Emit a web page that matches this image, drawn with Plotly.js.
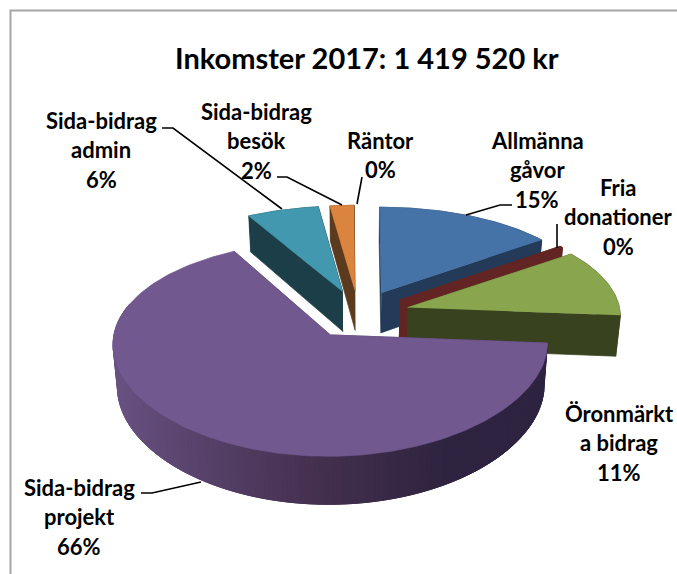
<!DOCTYPE html>
<html><head><meta charset="utf-8">
<script src="https://cdn.plot.ly/plotly-3.0.1.min.js"></script>
<style>html,body{margin:0;padding:0;background:#fff}#c{width:677px;height:574px}</style>
</head><body><div id="c"></div>
<script>
// ---- data (share of income, %) ----
const categories = ['Allmänna gåvor','Fria donationer','Öronmärkta bidrag','Sida-bidrag projekt','Sida-bidrag admin','Sida-bidrag besök','Räntor'];
const values     = [15.0, 0.3, 11.0, 66.0, 6.0, 2.0, 0.1];
const labelLines = [['Allmänna','gåvor'],['Fria','donationer'],['Öronmärkt','a bidrag'],['Sida-bidrag','projekt'],['Sida-bidrag','admin'],['Sida-bidrag','besök'],['Räntor']];
const topColors  = ['#4572a7','#632523','#89a54e','#71588f','#4198af','#db843d','#ffffff'];
const wallColors = ['#233a58','#632523','#38421f','#4a3a60','#1c3e48','#5c3a1e','#ffffff'];
const titleText  = 'Inkomster 2017: 1 419 520 kr';
// label block centres: x, first-line y
const labelX = [537,618,619,79,101,256,380];
const labelY = [140,187,413,487,120,111,140];
// leader lines
const leaders = [
 [[512,205],[500,205],[466,215]],
 [[557,224],[557,248]],
 [],
 [[141,493],[152,493],[201,482]],
 [[162,128],[173,128],[282,209]],
 [[277,177],[287,177],[342,205]],
 [[362,177],[357,204]]
];
// ---- pie geometry ----
const cx=358.5, cy=314, R=213, RY=101, KX=0.08, K=0.122, H=41, TAPER=0.018, EXPLODE=0.24;
const total = values.reduce((a,b)=>a+b,0);
function proj(X,W,Z){return [cx+R*X/(1-KX*W)*(1-TAPER*Z), cy+(RY*W+H*Z)/(1-K*W)];}
const traces=[];
function poly(pts,color){
  traces.push({type:'scatter',mode:'lines',x:pts.map(p=>p[0]),y:pts.map(p=>p[1]),fill:'toself',fillcolor:color,
    line:{color:color,width:0.7},hoverinfo:'skip',showlegend:false});
}
const hex=c=>[1,3,5].map(i=>parseInt(c.substr(i,2),16));
function mix(a,b,t){const A=hex(a),B=hex(b);return 'rgb('+A.map((v,i)=>Math.round(v+(B[i]-v)*t)).join(',')+')';}
const stops=[[-1,'#6a5485'],[0,'#44304f'],[0.55,'#2e2440'],[1,'#2e2440']];
function wallShade(x){for(let i=0;i<stops.length-1;i++){if(x<=stops[i+1][0])return mix(stops[i][1],stops[i+1][1],(x-stops[i][0])/(stops[i+1][0]-stops[i][0]));}return stops[stops.length-1][1];}
let start=0; const slices=values.map((v,i)=>{const a0=start/total*2*Math.PI;start+=v;const a1=start/total*2*Math.PI;return {i,a0,a1};});
const order=[0,1,2,6,4,5,3];
order.forEach(idx=>{
  const {i,a0,a1}=slices[idx], mid=(a0+a1)/2;
  const ox=EXPLODE*Math.sin(mid), ow=-EXPLODE*Math.cos(mid);
  const pt=(a,r,z)=>proj(ox+r*Math.sin(a),ow-r*Math.cos(a),z);
  const n=Math.max(2,Math.ceil((a1-a0)/0.02));
  const arc=[];for(let j=0;j<=n;j++)arc.push(a0+(a1-a0)*j/n);
  const radial=[a0,a1].sort((p,q)=>(-Math.cos(p))-(-Math.cos(q)));
  radial.forEach(a=>poly([pt(a,0,0),pt(a,1,0),pt(a,1,1),pt(a,0,1)],wallColors[i]));
  if(i===3){
    for(let j=n-1;j>=0;j--){
      const b0=arc[j],b1=arc[Math.min(n,j+3)];
      if(-Math.cos(b0)<-0.25)continue;
      poly([pt(b0,1,0),pt(b1,1,0),pt(b1,1,1),pt(b0,1,1)],wallShade(Math.sin(b0)));
    }
  } else {
    poly(arc.map(a=>pt(a,1,0)).concat(arc.slice().reverse().map(a=>pt(a,1,1))),wallColors[i]);
  }
  poly([pt(a0,0,0)].concat(arc.map(a=>pt(a,1,0))),topColors[i]);
});
leaders.forEach(l=>{if(l.length)traces.push({type:'scatter',mode:'lines',x:l.map(p=>p[0]),y:l.map(p=>p[1]),
  line:{color:'#000',width:1.6},hoverinfo:'skip',showlegend:false});});
const FONT='Lato, "Open Sans", sans-serif';
const annotations=[{x:367,y:57,xref:'x',yref:'y',text:'<b>'+titleText+'</b>',showarrow:false,font:{family:FONT,size:29,color:'#000'}}];
categories.forEach((c,i)=>{
  const lines=labelLines[i].concat([Math.round(values[i]/total*100)+'%']);
  lines.forEach((t,j)=>annotations.push({x:labelX[i],y:labelY[i]+j*29.6,xref:'x',yref:'y',text:'<b>'+t+'</b>',showarrow:false,font:{family:FONT,size:22,color:'#000'}}));
});
const layout={width:677,height:574,margin:{l:0,r:0,t:0,b:0},paper_bgcolor:'#fff',plot_bgcolor:'#fff',showlegend:false,
  xaxis:{range:[0,677],visible:false,fixedrange:true},yaxis:{range:[574,0],visible:false,fixedrange:true},
  annotations,
  shapes:[{type:'rect',xref:'x',yref:'y',x0:10.5,y0:10.5,x1:690,y1:590,line:{color:'#a6a6a6',width:2},fillcolor:'rgba(0,0,0,0)'}]};
Plotly.newPlot('c',traces,layout,{displayModeBar:false,staticPlot:true});
</script></body></html>
